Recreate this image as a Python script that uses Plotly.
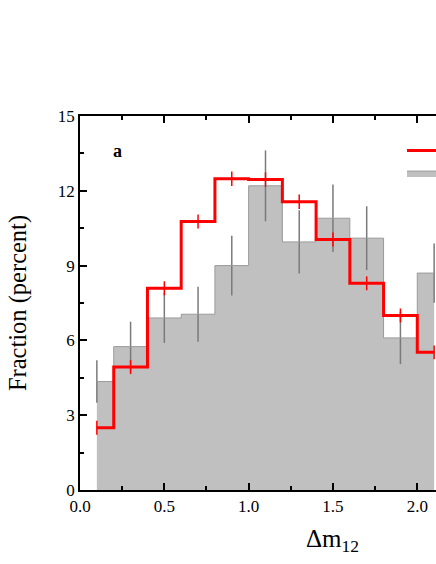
import plotly.graph_objects as go

# Data (bin centres, fractions in percent)
x_centers = [0.1, 0.3, 0.5, 0.7, 0.9, 1.1, 1.3, 1.5, 1.7, 1.9, 2.1]
gray_vals = [4.35, 5.75, 6.9, 7.05, 9.0, 12.2, 9.95, 10.9, 10.1, 6.1, 8.7]
gray_err = [0.85, 1.0, 1.0, 1.1, 1.2, 1.42, 1.27, 1.35, 1.28, 1.05, 1.19]
red_vals = [2.5, 4.93, 8.09, 10.77, 12.48, 12.45, 11.56, 10.05, 8.29, 7.0, 5.52]
red_err = [0.28, 0.28, 0.28, 0.28, 0.29, 0.29, 0.29, 0.28, 0.28, 0.28, 0.28]
y_ticks = [0, 3, 6, 9, 12, 15]
x_ticks = [0.0, 0.5, 1.0, 1.5, 2.0]
x_tick_labels = ["0.0", "0.5", "1.0", "1.5", "2.0"]

FONT = "Liberation Serif, Times New Roman, serif"

fig = go.Figure()

fig.add_trace(go.Scatter(
    x=x_centers, y=gray_vals, mode="lines", line_shape="hvh",
    line=dict(color="#9a9a9a", width=1), fill="tozeroy", fillcolor="#c0c0c0",
    error_y=dict(type="data", array=gray_err, color="#7a7a7a", thickness=1.5, width=0),
    name="Observed", legendrank=2,
))
fig.add_trace(go.Scatter(
    x=x_centers, y=red_vals, mode="lines", line_shape="hvh",
    line=dict(color="#ff0000", width=3),
    error_y=dict(type="data", array=red_err, color="#ff0000", thickness=1.5, width=0),
    name="Simulated", legendrank=1,
))

fig.add_annotation(x=0.22, y=13.6, xref="x", yref="y", text="<b>a</b>", showarrow=False,
                   font=dict(family=FONT, size=18, color="black"))
fig.add_annotation(x=1.5, y=-0.135, xref="x", yref="paper", text="Δm<sub>12</sub>", showarrow=False,
                   yanchor="middle", font=dict(family=FONT, size=25, color="black"))

axis_common = dict(showline=True, linecolor="black", linewidth=1.5, ticks="inside",
                   tickcolor="black", tickwidth=1.5, ticklen=7, showgrid=False, zeroline=False,
                   tickfont=dict(family=FONT, size=17, color="black"))

fig.update_xaxes(range=[0, 2.111], tickvals=x_ticks, ticktext=x_tick_labels, mirror="allticks",
                 minor=dict(ticks="inside", ticklen=4, dtick=0.25, tickcolor="black", tickwidth=1.5),
                 **axis_common)
fig.update_yaxes(range=[0, 15], tickvals=y_ticks, mirror=False,
                 minor=dict(ticks="inside", ticklen=4, dtick=1.5, tickcolor="black", tickwidth=1.5),
                 title=dict(text="Fraction (percent)", font=dict(family=FONT, size=24.5, color="black"), standoff=24),
                 **axis_common)

fig.update_layout(
    width=436, height=564,
    margin=dict(l=80, r=0, t=116, b=74, autoexpand=False),
    plot_bgcolor="white", paper_bgcolor="white",
    showlegend=True,
    legend=dict(x=0.9045, y=0.951, xanchor="left", yanchor="top", bgcolor="rgba(0,0,0,0)",
                font=dict(family=FONT, size=15, color="black"), itemwidth=40),
    font=dict(family=FONT, color="black"),
)

fig.write_html(
    "out.html",
    config={"displayModeBar": False},
    post_script="document.body.style.margin='0';document.body.style.overflow='hidden';",
)
